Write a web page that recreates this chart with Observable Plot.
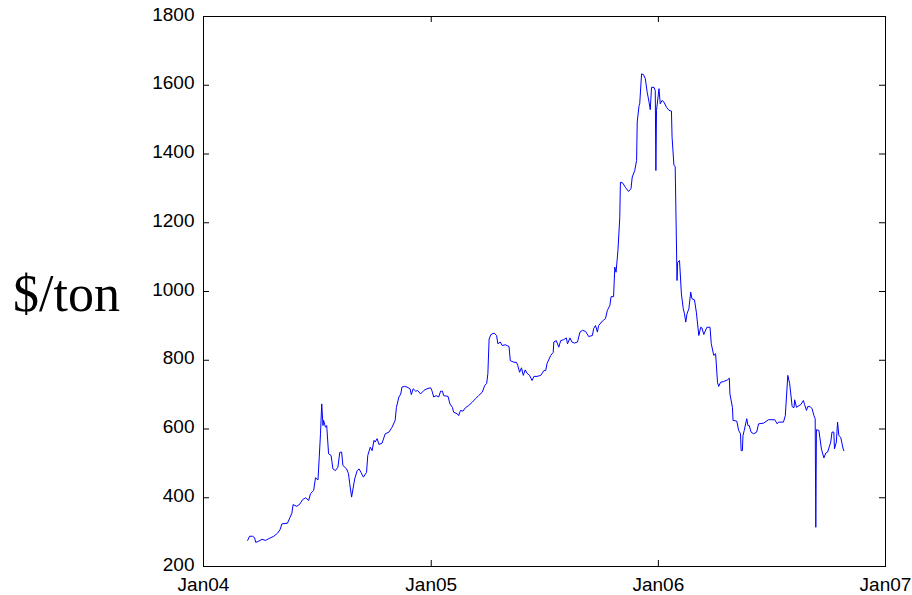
<!DOCTYPE html>
<html><head><meta charset="utf-8">
<script src="https://cdn.jsdelivr.net/npm/d3@7"></script>
<script src="https://cdn.jsdelivr.net/npm/@observablehq/plot@0.6"></script>
<style>body{margin:0;background:#fff}</style>
</head><body><div id="chart"></div>
<script>
const dates = [
"2004-03-12","2004-03-15","2004-03-20","2004-03-23","2004-03-25","2004-03-30","2004-04-04","2004-04-10","2004-04-15","2004-04-23",
"2004-04-29","2004-05-03","2004-05-06","2004-05-15","2004-05-19","2004-05-22","2004-05-24","2004-05-30","2004-06-04","2004-06-08",
"2004-06-13","2004-06-18","2004-06-21","2004-06-26","2004-06-29","2004-07-03","2004-07-05","2004-07-07","2004-07-09","2004-07-11",
"2004-07-12","2004-07-15","2004-07-17","2004-07-20","2004-07-24","2004-07-27","2004-07-31","2004-08-04","2004-08-07","2004-08-10",
"2004-08-12","2004-08-18","2004-08-21","2004-08-23","2004-08-26","2004-08-31","2004-09-04","2004-09-07","2004-09-10","2004-09-14",
"2004-09-19","2004-09-21","2004-09-25","2004-09-28","2004-10-01","2004-10-03","2004-10-06","2004-10-09","2004-10-14","2004-10-19",
"2004-10-25","2004-10-30","2004-11-04","2004-11-06","2004-11-10","2004-11-13","2004-11-15","2004-11-19","2004-11-23","2004-11-28",
"2004-11-30","2004-12-03","2004-12-07","2004-12-10","2004-12-15","2004-12-20","2004-12-25","2004-12-31","2005-01-02","2005-01-05",
"2005-01-09","2005-01-13","2005-01-16","2005-01-19","2005-01-21","2005-01-28","2005-01-31","2005-02-04","2005-02-06","2005-02-12",
"2005-02-14","2005-02-17","2005-02-21","2005-02-25","2005-03-02","2005-03-08","2005-03-13","2005-03-18","2005-03-24","2005-03-28",
"2005-03-31","2005-04-02","2005-04-04","2005-04-07","2005-04-12","2005-04-16","2005-04-18","2005-04-22","2005-04-25","2005-04-30",
"2005-05-06","2005-05-08","2005-05-14","2005-05-18","2005-05-20","2005-05-23","2005-05-26","2005-05-29","2005-06-01","2005-06-04",
"2005-06-08","2005-06-12","2005-06-15","2005-06-20","2005-06-26","2005-07-01","2005-07-04","2005-07-06","2005-07-12","2005-07-16",
"2005-07-17","2005-07-21","2005-07-25","2005-07-28","2005-08-02","2005-08-06","2005-08-08","2005-08-12","2005-08-15","2005-08-19",
"2005-08-24","2005-08-28","2005-09-01","2005-09-06","2005-09-11","2005-09-17","2005-09-19","2005-09-22","2005-09-25","2005-09-27",
"2005-10-03","2005-10-08","2005-10-11","2005-10-15","2005-10-17","2005-10-21","2005-10-23","2005-10-25","2005-10-28","2005-10-31",
"2005-11-01","2005-11-05","2005-11-09","2005-11-14","2005-11-18","2005-11-20","2005-11-24","2005-11-27","2005-11-28","2005-12-01",
"2005-12-02","2005-12-05","2005-12-08","2005-12-11","2005-12-14","2005-12-17","2005-12-19","2005-12-21","2005-12-25","2005-12-27",
"2005-12-28","2005-12-29","2006-01-02","2006-01-04","2006-01-07","2006-01-10","2006-01-14","2006-01-18","2006-01-22","2006-01-23",
"2006-01-26","2006-01-28","2006-01-31","2006-02-01","2006-02-04","2006-02-07","2006-02-10","2006-02-12","2006-02-14","2006-02-16",
"2006-02-19","2006-02-22","2006-02-24","2006-02-28","2006-03-03","2006-03-07","2006-03-10","2006-03-12","2006-03-15","2006-03-20",
"2006-03-25","2006-03-27","2006-03-31","2006-04-03","2006-04-06","2006-04-08","2006-04-11","2006-04-16","2006-04-22","2006-04-25",
"2006-04-26","2006-04-30","2006-05-01","2006-05-07","2006-05-10","2006-05-13","2006-05-14","2006-05-16","2006-05-17","2006-05-19",
"2006-05-23","2006-05-25","2006-05-27","2006-05-30","2006-06-03","2006-06-08","2006-06-11","2006-06-19","2006-06-27","2006-07-07",
"2006-07-11","2006-07-13","2006-07-21","2006-07-24","2006-07-28","2006-07-31","2006-08-04","2006-08-07","2006-08-08","2006-08-11",
"2006-08-15","2006-08-18","2006-08-22","2006-08-24","2006-08-27","2006-08-29","2006-09-02","2006-09-05","2006-09-08","2006-09-10",
"2006-09-11","2006-09-12","2006-09-16","2006-09-20","2006-09-24","2006-09-27","2006-09-30","2006-10-05","2006-10-07","2006-10-10",
"2006-10-11","2006-10-14","2006-10-16","2006-10-18","2006-10-21","2006-10-25","2006-10-26"
];
const prices = [
276,288,288,284,270,274,279,276,281,288,
297,307,324,326,343,355,380,375,382,394,
400,392,412,421,458,452,518,586,673,610,
625,605,610,528,523,484,479,489,532,533,
494,484,470,441,402,455,479,484,474,460,
474,523,547,537,567,562,572,555,559,586,
591,605,625,663,693,702,722,724,722,717,
700,717,710,712,702,712,717,720,712,693,
697,693,710,710,697,695,673,663,649,644,
639,654,652,662,668,678,688,697,707,727,
732,761,862,875,879,872,848,853,843,845,
840,799,794,794,785,765,778,756,772,762,
756,741,753,753,756,770,770,790,814,823,
853,857,838,857,860,865,848,865,853,850,
853,882,887,884,869,872,892,901,882,901,
914,921,945,959,985,985,1071,1056,1119,1216,
1318,1315,1303,1291,1299,1333,1352,1381,1493,1541,
1546,1633,1631,1619,1580,1551,1529,1594,1594,1585,
1352,1527,1590,1546,1556,1551,1536,1527,1525,1449,
1367,1364,1032,1085,1090,993,950,935,911,935,
950,998,979,976,940,872,896,894,875,896,
896,848,814,819,736,724,736,738,743,748,
702,663,625,623,596,586,537,537,581,596,
630,610,610,591,586,591,615,617,627,627,
615,620,620,639,756,732,665,662,685,663,
668,671,683,671,654,665,665,659,639,630,
314,598,596,542,516,530,533,562,591,591,
542,562,620,581,576,542,537
];
const xTickDates = ["2004-01-01","2005-01-01","2006-01-01","2007-01-01"];
const yTicks = [200,400,600,800,1000,1200,1400,1600,1800];
const yLabel = "$/ton";

const data = dates.map((d, i) => ({date: new Date(d + "T00:00:00Z"), price: prices[i]}));
const xt = xTickDates.map(d => new Date(d + "T00:00:00Z"));
const W = 912, H = 595, ML = 203, MR = 27, MT = 16, MB = 29;
const PW = W - ML - MR, PH = H - MT - MB;

const chart = Plot.plot({
  width: W, height: H,
  marginLeft: ML, marginRight: MR, marginTop: MT, marginBottom: MB,
  style: {fontFamily: "'Liberation Sans', Arial, sans-serif", fontSize: "19px", background: "white", color: "black", overflow: "visible"},
  x: {type: "utc", domain: [xt[0], xt[xt.length - 1]], label: null},
  y: {domain: [200, 1800], label: null},
  marks: [
    Plot.lineY(data, {x: "date", y: "price", stroke: "#0000ff", strokeWidth: 1}),
    Plot.frame({stroke: "black", strokeWidth: 1}),
    Plot.tickX(xt, {x: d => d, insetTop: PH - 6, stroke: "black"}),
    Plot.tickX(xt, {x: d => d, insetBottom: PH - 6, stroke: "black"}),
    Plot.tickY(yTicks, {y: d => d, insetRight: PW - 6, stroke: "black"}),
    Plot.tickY(yTicks, {y: d => d, insetLeft: PW - 6, stroke: "black"}),
    Plot.axisX(xt, {tickSize: 0, tickPadding: 11, tickFormat: d3.utcFormat("%b%y"), label: null}),
    Plot.axisY(yTicks, {tickSize: 0, tickPadding: 9, dy: -2, tickFormat: d3.format("d"), label: null}),
    Plot.text([yLabel], {frameAnchor: "left", dx: -137, dy: 3, text: d => d, textAnchor: "middle",
      fontFamily: "'Liberation Serif', 'Times New Roman', serif", fontSize: 52, fill: "black"})
  ]
});
document.getElementById("chart").appendChild(chart);
</script>
</body></html>
